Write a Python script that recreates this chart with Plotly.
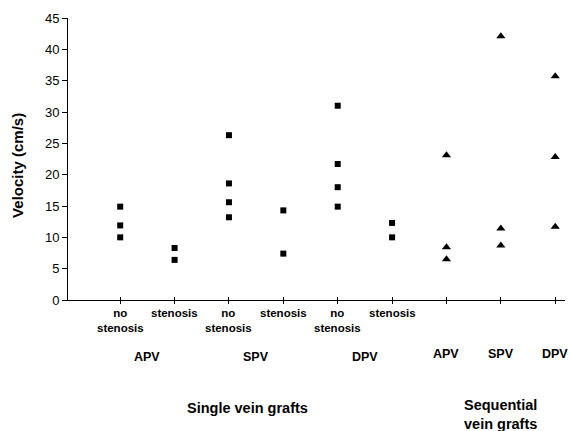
import plotly.graph_objects as go

# Category slots along the x axis (1..9)
categories = ["no<br>stenosis", "stenosis", "no<br>stenosis", "stenosis",
              "no<br>stenosis", "stenosis", "", "", ""]
positions = [1, 2, 3, 4, 5, 6, 7, 8, 9]

# Single vein grafts: velocity (cm/s) per category
apv_no_stenosis = [14.9, 11.9, 10.0]
apv_stenosis = [8.3, 6.4]
spv_no_stenosis = [26.3, 18.6, 15.6, 13.2]
spv_stenosis = [14.3, 7.4]
dpv_no_stenosis = [31.0, 21.7, 18.0, 14.9]
dpv_stenosis = [12.3, 10.0]

# Sequential vein grafts
seq_apv = [23.1, 8.4, 6.5]
seq_spv = [42.1, 11.4, 8.7]
seq_dpv = [35.7, 22.8, 11.7]

single_groups = [apv_no_stenosis, apv_stenosis, spv_no_stenosis,
                 spv_stenosis, dpv_no_stenosis, dpv_stenosis]
seq_groups = [seq_apv, seq_spv, seq_dpv]

group_labels = ["APV", "SPV", "DPV"]
group_label_x = [1.5, 3.5, 5.5]
seq_label_x = [7, 8, 9]

yticks = [0, 5, 10, 15, 20, 25, 30, 35, 40, 45]

FONT = "Liberation Sans, Arial, sans-serif"

sq_x, sq_y = [], []
for pos, vals in zip(positions[:6], single_groups):
    sq_x += [pos] * len(vals)
    sq_y += vals

tri_x, tri_y = [], []
for pos, vals in zip(positions[6:], seq_groups):
    tri_x += [pos] * len(vals)
    tri_y += vals

fig = go.Figure()
fig.add_trace(go.Scatter(
    x=sq_x, y=sq_y, mode="markers",
    marker=dict(symbol="square", size=6, color="black"),
    showlegend=False, hoverinfo="skip"))
fig.add_trace(go.Scatter(
    x=tri_x, y=tri_y, mode="markers",
    marker=dict(symbol="triangle-up", size=8, color="black"),
    showlegend=False, hoverinfo="skip"))
# empty trace that activates the overlay axis carrying the upper tick halves
fig.add_trace(go.Scatter(x=[None], y=[None], xaxis="x2", showlegend=False,
                         hoverinfo="skip"))

xrange = [0.04, 9.18]

fig.update_layout(
    width=570, height=431,
    margin=dict(l=68, r=5, t=18, b=131),
    paper_bgcolor="white", plot_bgcolor="white",
    font=dict(family=FONT, color="black"),
    xaxis=dict(
        range=xrange, tickvals=positions, showticklabels=False,
        ticks="outside", ticklen=3, tickwidth=1, tickcolor="black",
        showline=True, linecolor="black", linewidth=1,
        showgrid=False, zeroline=False,
    ),
    xaxis2=dict(
        range=xrange, overlaying="x", tickvals=positions,
        showticklabels=False, ticks="inside", ticklen=3, tickwidth=1,
        tickcolor="black", showgrid=False, zeroline=False, showline=False,
    ),
    yaxis=dict(
        range=[0, 45], tickvals=yticks,
        ticks="outside", ticklen=5, tickwidth=1, tickcolor="black",
        showline=True, linecolor="black", linewidth=1,
        showgrid=False, zeroline=False,
        tickfont=dict(family=FONT, size=13, color="black"),
    ),
)

ann = []
# category labels under each tick
for lbl, x in zip(categories, positions):
    if lbl:
        ann.append(dict(text="<b>%s</b>" % lbl, xref="x", yref="paper",
                        x=x, y=0, yanchor="top", yshift=-5,
                        showarrow=False, font=dict(size=11.5)))
ann.append(dict(text="<b>Velocity (cm/s)</b>", textangle=-90,
                xref="paper", yref="y", x=0, y=21.4, xshift=-50,
                xanchor="center", yanchor="middle",
                showarrow=False, font=dict(size=15)))
for lbl, x in zip(group_labels, group_label_x):
    ann.append(dict(text="<b>%s</b>" % lbl, xref="x", yref="paper", x=x, y=0,
                    yanchor="middle", yshift=-57, showarrow=False,
                    font=dict(size=12.5)))
for lbl, x in zip(group_labels, seq_label_x):
    ann.append(dict(text="<b>%s</b>" % lbl, xref="x", yref="paper", x=x, y=0,
                    yanchor="middle", yshift=-54, showarrow=False,
                    font=dict(size=12.5)))
ann.append(dict(text="<b>Single vein grafts</b>", xref="x", yref="paper",
                x=3.35, y=0, yanchor="middle", yshift=-108, showarrow=False,
                font=dict(size=14.5)))
ann.append(dict(text="<b>Sequential<br>vein grafts</b>", xref="x",
                yref="paper", x=8, y=0, yanchor="middle", yshift=-114,
                showarrow=False, font=dict(size=14.5)))
fig.update_layout(annotations=ann)

fig.write_html("out.html")
